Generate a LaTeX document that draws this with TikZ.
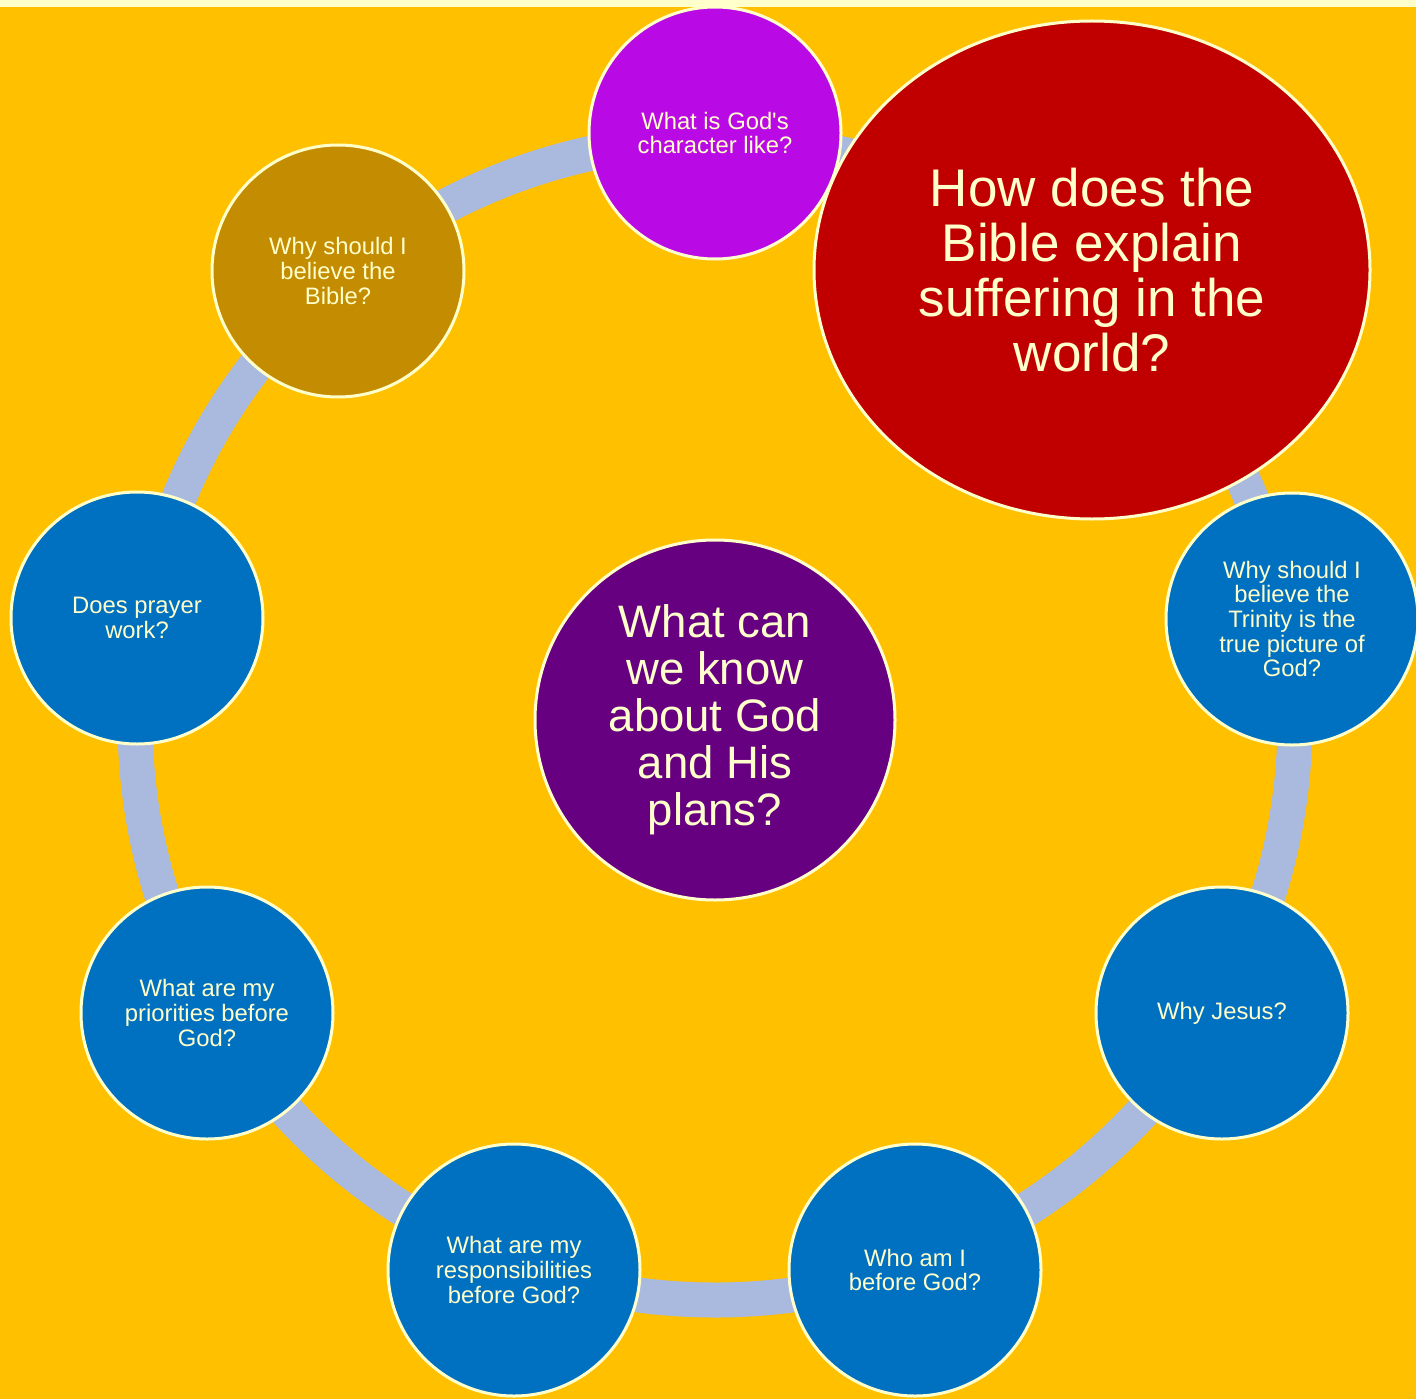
\documentclass[tikz,border=0pt]{standalone}
\usepackage{fontspec}
\usetikzlibrary{shapes.geometric}
\setmainfont{Liberation Sans}[Ligatures=TeXOff]
\definecolor{bgorange}{HTML}{FFC000}
\definecolor{cream}{HTML}{FFFFCC}
\definecolor{ringblue}{HTML}{AAB9DE}
\definecolor{nodeblue}{HTML}{0070C0}
\definecolor{centerpurple}{HTML}{660080}
\definecolor{topmagenta}{HTML}{B90AE6}
\definecolor{gold}{HTML}{C48C00}
\definecolor{bigred}{HTML}{C00000}
\tikzset{
  small/.style={circle, draw=cream, line width=3pt, minimum size=252pt, inner sep=0pt,
    text=cream, align=center, font=\fontsize{23.8}{24.7}\selectfont},
}
\begin{document}
\begin{tikzpicture}[x=1pt,y=-1pt]
\fill[cream] (0,0) rectangle (1416,1399);
\fill[bgorange] (0,7) rectangle (1416,1399);
\useasboundingbox (0,0) rectangle (1416,1399);
\coordinate (c) at (715,720);
\draw[ringblue, line width=35pt] (c) circle[radius=580];
\node[small, fill=topmagenta] (n1) at (715,133) {What is God's\\character like?};
\node[ellipse, draw=cream, line width=3pt, fill=bigred, minimum width=556pt, minimum height=498pt,
  inner sep=0pt, text=cream, align=center, font=\fontsize{53}{55}\selectfont] (n2) at (1092,270)
  {How does the\\Bible explain\\suffering in the\\world?};
\node[small, fill=nodeblue] (n3) at (1292,619) {Why should I\\believe the\\Trinity is the\\true picture of\\God?};
\node[small, fill=nodeblue] (n4) at (1222,1013) {Why Jesus?};
\node[small, fill=nodeblue] (n5) at (915,1270) {Who am I\\before God?};
\node[small, fill=nodeblue] (n6) at (514,1270) {What are my\\responsibilities\\before God?};
\node[small, fill=nodeblue] (n7) at (207,1013) {What are my\\priorities before\\God?};
\node[small, fill=nodeblue] (n8) at (137,618) {Does prayer\\work?};
\node[small, fill=gold] (n9) at (338,271) {Why should I\\believe the\\Bible?};
\node[circle, draw=cream, line width=3pt, fill=centerpurple, minimum size=360pt, inner sep=0pt,
  text=cream, align=center, font=\fontsize{45.5}{47}\selectfont] (n0) at (715,720)
  {What can\\we know\\about God\\and His\\plans?};
\end{tikzpicture}
\end{document}
